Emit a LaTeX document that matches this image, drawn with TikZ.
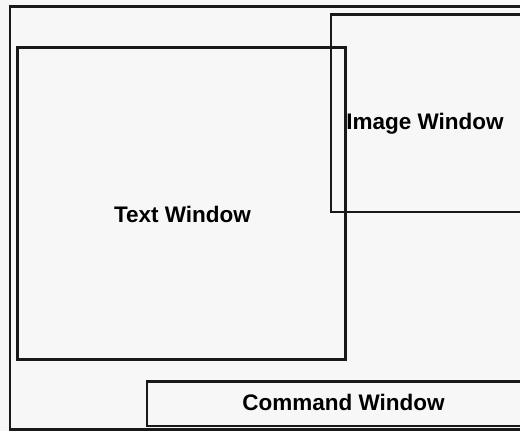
\documentclass[tikz,border=0pt]{standalone}
\usepackage{fontspec}
\setmainfont{Liberation Sans}
\begin{document}
\begin{tikzpicture}[x=1pt,y=-1pt,
  frame/.style={draw=black!90,line width=2.6pt},
  winlabel/.style={font=\bfseries\fontsize{22.5}{26}\selectfont,anchor=base,inner sep=0pt}]
\useasboundingbox (0,0) rectangle (520,431);
\fill[black!3] (0,0) rectangle (520,431);
\begin{scope}
\clip (0,0) rectangle (520,431);
% outer screen frame
\draw[frame] (10,6.5) rectangle (540,429.5);
% image window
\draw[frame] (331,14.5) rectangle (540,212);
% text window
\draw[frame] (17.5,47.5) rectangle (345.5,359.5);
% command window
\draw[frame] (147,381.5) rectangle (540,426);
\end{scope}
\node[winlabel] (img) at (425,129) {Image Window};
\node[winlabel] (txt) at (182.5,222) {Text Window};
\node[winlabel] (cmd) at (343.5,410) {Command Window};
\end{tikzpicture}
\end{document}
